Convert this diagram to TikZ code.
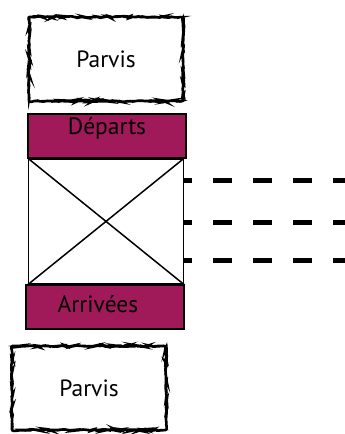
\documentclass[tikz,border=0pt]{standalone}
\usepackage{fontspec}
\setmainfont{PT Sans}
\usepackage{xcolor}
\usetikzlibrary{positioning, decorations.pathmorphing}
\definecolor{quai}{RGB}{160,25,88}

\begin{document}
\begin{tikzpicture}[x=1pt, y=-1pt, font=\fontsize{23.5}{27}\selectfont,
  parvisbox/.style={draw, line width=2.6pt, rounded corners=2pt, inner sep=0pt,
    minimum width=154pt, minimum height=84pt,
    decorate, decoration={random steps, segment length=2.5pt, amplitude=0.9pt}},
  quaibox/.style={draw, fill=quai, line width=1.6pt, inner sep=0pt,
    minimum width=158pt, minimum height=44pt},
  dashrow/.style={line width=5pt, dash pattern=on 19pt off 21pt, dash phase=11pt},
]
  \useasboundingbox (0,0) rectangle (345,434);

  \node[parvisbox] (parvisTop) at (106,59) {Parvis};
  \node[quaibox, anchor=north] (departs) at (107,113) {};
  \node at ([yshift=7pt]departs.center) {Départs};
  \node[draw, line width=1.8pt, minimum width=155pt, minimum height=125pt,
    inner sep=0pt, anchor=north] (hall) at (106,158) {};
  \node[quaibox, anchor=north] (arrivees) at (105,284) {};
  \node at ([xshift=-7pt, yshift=3pt]arrivees.center) {Arrivées};
  \node[parvisbox] (parvisBot) at (89,388) {Parvis};

  % the cross over the hall
  \draw[line width=1.5pt] (hall.north west) -- (hall.south east)
    (hall.south west) -- (hall.north east);

  % tracks
  \foreach \y in {180,222,260}
    \draw[dashrow] (hall.east |- 0,\y) -- (345,\y);
\end{tikzpicture}
\end{document}
